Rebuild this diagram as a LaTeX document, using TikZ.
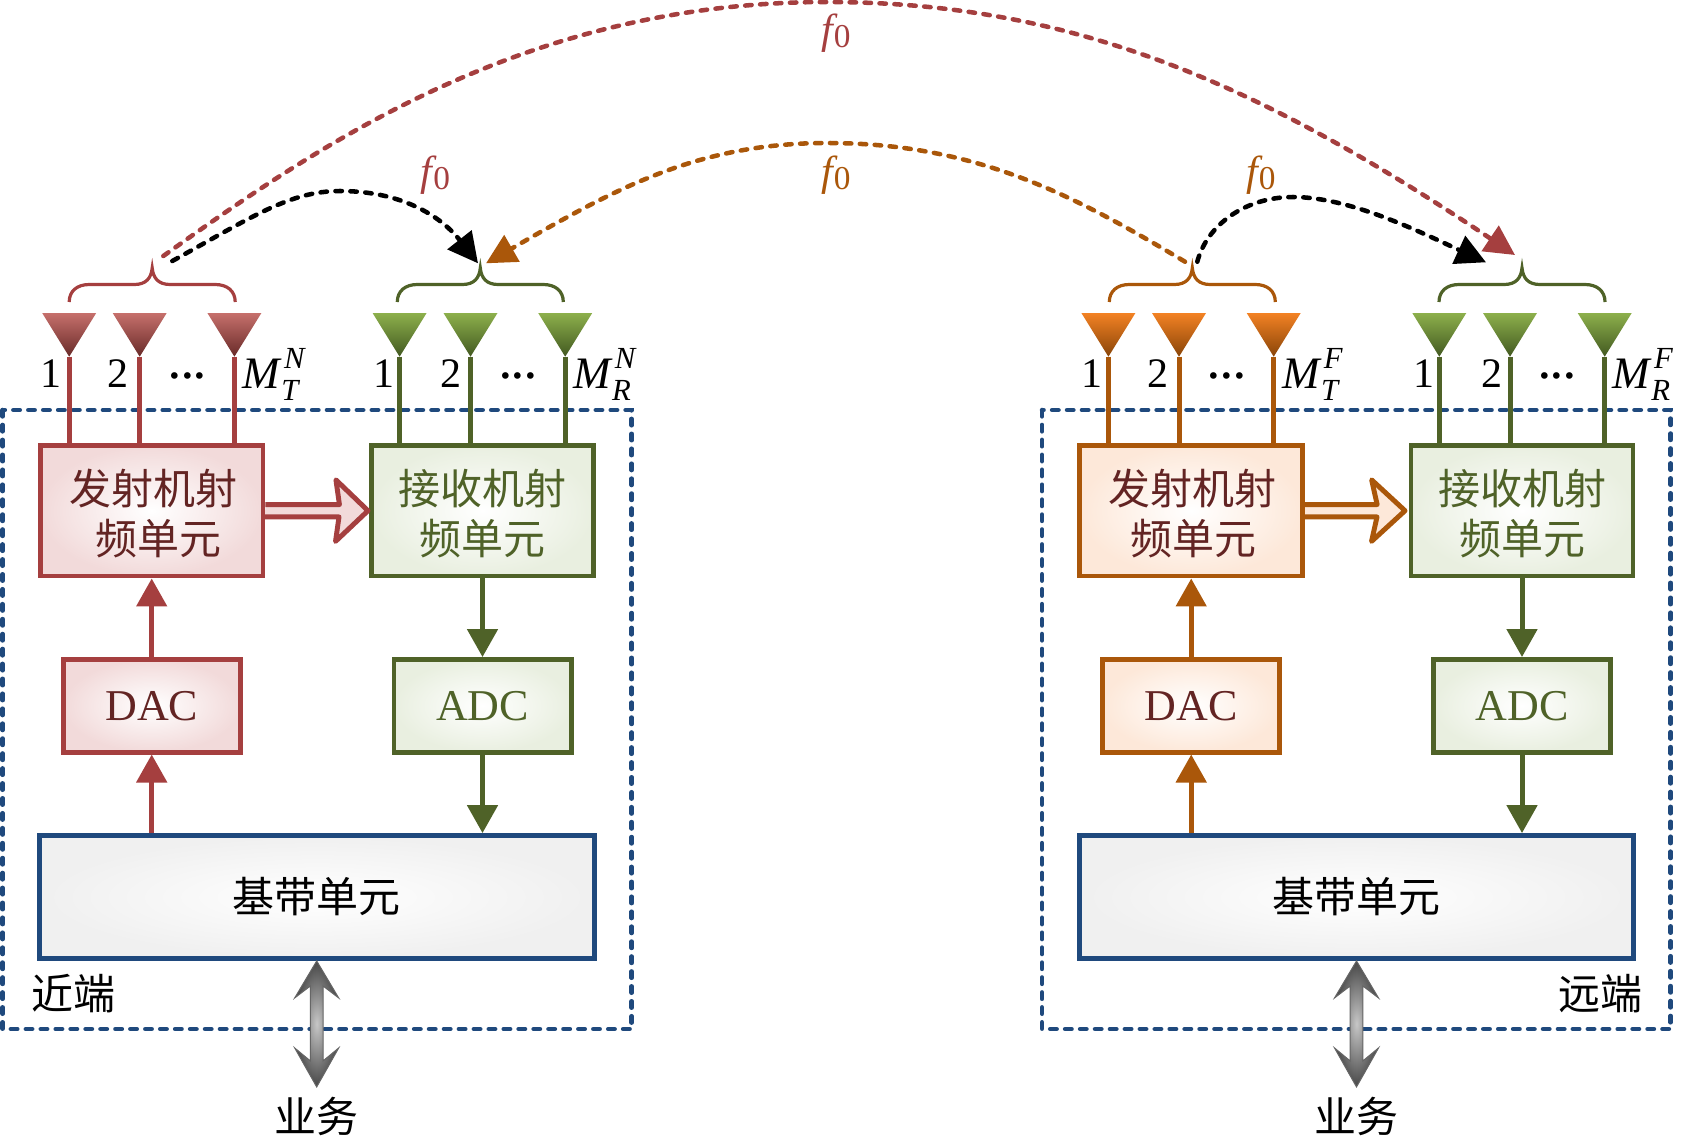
\documentclass[tikz,border=0pt]{standalone}
\usepackage{fontspec}
\setmainfont{Liberation Serif}
\newfontfamily\cjkfont{Noto Sans CJK SC}
\usetikzlibrary{arrows.meta}

\definecolor{redline}{RGB}{165,63,63}
\definecolor{greenline}{RGB}{79,98,40}
\definecolor{orangeline}{RGB}{170,87,10}
\definecolor{blueline}{RGB}{31,73,125}
\definecolor{redtext}{RGB}{99,36,35}
\definecolor{redfill}{RGB}{242,218,218}
\definecolor{orangefill}{RGB}{253,232,217}
\definecolor{greenfill}{RGB}{233,239,224}
\definecolor{redtop}{RGB}{198,112,108}
\definecolor{redtip}{RGB}{104,42,40}
\definecolor{greentop}{RGB}{141,176,76}
\definecolor{greentip}{RGB}{66,88,32}
\definecolor{orangetop}{RGB}{243,130,36}
\definecolor{orangetip}{RGB}{136,68,8}

\newcommand{\bigfs}{\fontsize{31.5pt}{37.5pt}\selectfont}
\newcommand{\smallfs}{\fontsize{23pt}{23pt}\selectfont}
\newcommand{\fzero}{\textit{f}\kern-3pt{\fontsize{25pt}{25pt}\selectfont\raisebox{-3pt}{0}}}
\newcommand{\dn}[1]{\raisebox{-2pt}[\height][\depth]{#1}}
\newcommand{\antname}[2]{{\fontsize{33.75pt}{37.5pt}\selectfont\textit{M}}\rlap{\kern1.5pt\raisebox{15pt}{\smallfs\textit{#2}}}\kern-0.5pt\raisebox{-9pt}{\smallfs\textit{#1}}}
\newcommand{\threedots}{{\fontsize{42pt}{42pt}\selectfont ·\kern-4.5pt·\kern-4.5pt·}}
\newcommand{\bracepath}{.. controls +(0,-11) and +(-12,0) .. ++(20,-17.5) -- ++(45,0) .. controls +(12,0) and +(-1,10) .. ++(18,-16.5) .. controls +(1,10) and +(-12,0) .. ++(18,16.5) -- ++(45,0) .. controls +(12,0) and +(0,-11) .. ++(20,17.5)}

\tikzset{every picture/.style={line width=0.75pt},
  rfbox/.style={draw,line width=3.7pt,minimum height=97.9pt,align=center,font=\cjkfont\bigfs},
  txred/.style={rfbox,draw=redline,inner color=white,outer color=redfill,text=redtext,minimum width=167.2pt},
  txorange/.style={rfbox,draw=orangeline,inner color=white,outer color=orangefill,text=redtext,minimum width=167.2pt},
  rxgreen/.style={rfbox,draw=greenline,inner color=white,outer color=greenfill,text=greenline,minimum width=166.5pt},
  dacred/.style={txred,font=\fontsize{33pt}{37.5pt}\selectfont,minimum width=132.8pt,minimum height=69.4pt},
  dacorange/.style={txorange,font=\fontsize{33pt}{37.5pt}\selectfont,minimum width=132.8pt,minimum height=69.4pt},
  adcgreen/.style={rxgreen,font=\fontsize{33pt}{37.5pt}\selectfont,minimum width=132.8pt,minimum height=69.4pt},
  bbbox/.style={draw=blueline,line width=3.7pt,inner color=white,outer color=black!6,minimum width=416pt,minimum height=92.2pt,font=\cjkfont\bigfs},
  endbox/.style={draw=blueline,line width=3.4pt,line cap=round,dash pattern=on 4.8pt off 6.4pt},
  feedline/.style={line width=3.75pt},
  sigarrow/.style={line width=3.75pt,-{Triangle[length=21pt,width=22.5pt]}},
  air/.style={line width=3.4pt,line cap=round,dash pattern=on 4.8pt off 6.4pt,-{Triangle[length=22.5pt,width=22.5pt]}},
  antred/.style={top color=redtop,bottom color=redtip},
  antgreen/.style={top color=greentop,bottom color=greentip},
  antorange/.style={top color=orangetop,bottom color=orangetip},
  group/.style={line width=2.4pt},
  dbl/.style={line width=3.7pt,line join=round},
  busarrow/.style={draw=black!60,line width=0.75pt,inner color=black!22,outer color=black!72,line join=miter},
  lab/.style={inner sep=0pt,font=\bigfs},
  mlab/.style={inner sep=0pt,anchor=base west,font=\bigfs},
  cjklab/.style={inner sep=0pt,font=\cjkfont\bigfs}
}

\begin{document}
\begin{tikzpicture}[x=0.75pt,y=0.75pt,yscale=-1,xscale=1]
\useasboundingbox (0,0) rectangle (1683,1140);

%Dashed end boxes
\draw [endbox] (2.7,410) rectangle (631.7,1029);
\draw [endbox] (1042,410) rectangle (1670.7,1029);

%Near end blocks
\node [txred] (txN) at (151.5,510.75) {\dn{\hspace*{3pt}发射机射}\\\dn{\hspace*{10pt}频单元}};
\node [rxgreen] (rxN) at (482.5,510.75) {\dn{接收机射}\\\dn{频单元}};
\node [dacred] (dacN) at (151.7,705.75) {DAC};
\node [adcgreen] (adcN) at (482.5,705.75) {ADC};
\node [bbbox] (bbN) at (316.7,897) {基带单元};
%Far end blocks
\node [txorange] (txF) at (1191.2,510.75) {\dn{\hspace*{2pt}发射机射}\\\dn{\hspace*{3pt}频单元}};
\node [rxgreen] (rxF) at (1522,510.75) {\dn{接收机射}\\\dn{频单元}};
\node [dacorange] (dacF) at (1191.2,705.75) {DAC};
\node [adcgreen] (adcF) at (1522,705.75) {ADC};
\node [bbbox] (bbF) at (1356.5,897) {基带单元};

%Antennas near end, transmit
\coordinate (antNT1) at (69.2,356.7);
\coordinate (antNT2) at (139.7,356.7);
\coordinate (antNT3) at (234.4,356.7);
\shade [antred] (42.2,313) -- (96.2,313) -- (antNT1) -- cycle;
\shade [antred] (112.7,313) -- (166.7,313) -- (antNT2) -- cycle;
\shade [antred] (207.4,313) -- (261.4,313) -- (antNT3) -- cycle;
\draw [redline,feedline] (antNT1) -- (antNT1 |- txN.north);
\draw [redline,feedline] (antNT2) -- (antNT2 |- txN.north);
\draw [redline,feedline] (antNT3) -- (antNT3 |- txN.north);
%Antennas near end, receive
\coordinate (antNR1) at (399.6,356.7);
\coordinate (antNR2) at (470.5,356.7);
\coordinate (antNR3) at (565.2,356.7);
\shade [antgreen] (372.6,313) -- (426.6,313) -- (antNR1) -- cycle;
\shade [antgreen] (443.5,313) -- (497.5,313) -- (antNR2) -- cycle;
\shade [antgreen] (538.2,313) -- (592.2,313) -- (antNR3) -- cycle;
\draw [greenline,feedline] (antNR1) -- (antNR1 |- rxN.north);
\draw [greenline,feedline] (antNR2) -- (antNR2 |- rxN.north);
\draw [greenline,feedline] (antNR3) -- (antNR3 |- rxN.north);
%Antennas far end, transmit
\coordinate (antFT1) at (1108.4,356.7);
\coordinate (antFT2) at (1179,356.7);
\coordinate (antFT3) at (1273.7,356.7);
\shade [antorange] (1081.4,313) -- (1135.4,313) -- (antFT1) -- cycle;
\shade [antorange] (1152,313) -- (1206,313) -- (antFT2) -- cycle;
\shade [antorange] (1246.7,313) -- (1300.7,313) -- (antFT3) -- cycle;
\draw [orangeline,feedline] (antFT1) -- (antFT1 |- txF.north);
\draw [orangeline,feedline] (antFT2) -- (antFT2 |- txF.north);
\draw [orangeline,feedline] (antFT3) -- (antFT3 |- txF.north);
%Antennas far end, receive
\coordinate (antFR1) at (1439.3,356.7);
\coordinate (antFR2) at (1510,356.7);
\coordinate (antFR3) at (1604.7,356.7);
\shade [antgreen] (1412.3,313) -- (1466.3,313) -- (antFR1) -- cycle;
\shade [antgreen] (1483,313) -- (1537,313) -- (antFR2) -- cycle;
\shade [antgreen] (1577.7,313) -- (1631.7,313) -- (antFR3) -- cycle;
\draw [greenline,feedline] (antFR1) -- (antFR1 |- rxF.north);
\draw [greenline,feedline] (antFR2) -- (antFR2 |- rxF.north);
\draw [greenline,feedline] (antFR3) -- (antFR3 |- rxF.north);

%Braces
\draw [group,redline] (69.2,302) \bracepath;
\draw [group,greenline] (397.3,302) \bracepath;
\draw [group,orangeline] (1109.3,302) \bracepath;
\draw [group,greenline] (1439,302) \bracepath;

%Signal arrows
\draw [sigarrow,redline] (bbN.north -| dacN) -- (dacN.south);
\draw [sigarrow,redline] (dacN.north) -- (txN.south -| dacN);
\draw [sigarrow,greenline] (rxN.south -| adcN) -- (adcN.north);
\draw [sigarrow,greenline] (adcN.south) -- (bbN.north -| adcN);
\draw [sigarrow,orangeline] (bbF.north -| dacF) -- (dacF.south);
\draw [sigarrow,orangeline] (dacF.north) -- (txF.south);
\draw [sigarrow,greenline] (rxF.south) -- (adcF.north);
\draw [sigarrow,greenline] (adcF.south) -- (bbF.north -| adcF);

%Hollow arrows from transmitter to receiver
\filldraw [dbl,draw=redline,fill=redfill] (txN.east) ++(0,-6.2) -- ++(74,0) -- ++(-3.5,-24.7) -- (368,510.7) -- (335.5,541.4) -- ++(3.5,-24.5) -- ++(-74,0);
\filldraw [dbl,draw=orangeline,fill=orangefill] (txF.east) ++(0,-6.2) -- ++(72,0) -- ++(-5.5,-24.7) -- (1405,510.7) -- (1371.5,541.4) -- ++(5.5,-24.5) -- ++(-72,0);

%Service arrows
\shadedraw [busarrow] (bbN.south) -- ++(22,37) -- ++(-15.7,-12) -- ++(0,75) -- ++(15.7,-13) -- ++(-22,39) -- ++(-22,-39) -- ++(15.7,13) -- ++(0,-75) -- ++(-15.7,12) -- cycle;
\shadedraw [busarrow] (bbF.south) -- ++(22,37) -- ++(-15.7,-12) -- ++(0,75) -- ++(15.7,-13) -- ++(-22,39) -- ++(-22,-39) -- ++(15.7,13) -- ++(0,-75) -- ++(-15.7,12) -- cycle;

%Links in the air
\coordinate (outNT) at (163.3,256);
\coordinate (inNR) at (478,263.3);
\coordinate (outNTs) at (172.3,261);
\coordinate (inNRo) at (486,263.3);
\coordinate (outFTo) at (1185,261.7);
\coordinate (outFT) at (1197.3,261.7);
\coordinate (inFR) at (1486,262.3);
\coordinate (inFRr) at (1515,255);
\draw [air,redline] (outNT) .. controls (323,142) and (527,2) .. (827,2) .. controls (1077,2) and (1265,87.5) .. (inFRr);
\draw [air,orangeline] (outFTo) .. controls (1075,196) and (977,143) .. (827,143) .. controls (697,143) and (615,189) .. (inNRo);
\draw [air,black] (outNTs) .. controls (252,217) and (290,191) .. (340,191) .. controls (400,191) and (440,215) .. (inNR);
\draw [air,black] (outFT) .. controls (1207,225) and (1245,197) .. (1293,197) .. controls (1350,197) and (1420,232) .. (inFR);

%Frequency labels
\node [lab,text=redline] (f1) at (836,33) {\fzero};
\node [lab,text=orangeline] (f2) at (836,175.5) {\fzero};
\node [lab,text=redline] (f3) at (435.5,175.5) {\fzero};
\node [lab,text=orangeline] (f4) at (1261,175.5) {\fzero};

%Antenna labels
\node [lab] (nT1) at (51.3,374) {1};
\node [lab] (nT2) at (118.3,374) {2};
\node [lab] (nT3) at (187.5,383.5) {\threedots};
\node [mlab] (nT4) at (242,388) {\antname{T}{N}};
\node [lab] (nR1) at (384,374) {1};
\node [lab] (nR2) at (451,374) {2};
\node [lab] (nR3) at (518,383.5) {\threedots};
\node [mlab] (nR4) at (572.8,388) {\antname{R}{N}};
\node [lab] (fT1) at (1091.7,374) {1};
\node [lab] (fT2) at (1158,374) {2};
\node [lab] (fT3) at (1226.7,383.5) {\threedots};
\node [mlab] (fT4) at (1281.7,388) {\antname{T}{F}};
\node [lab] (fR1) at (1424,374) {1};
\node [lab] (fR2) at (1491.7,374) {2};
\node [lab] (fR3) at (1557,383.5) {\threedots};
\node [mlab] (fR4) at (1612,388) {\antname{R}{F}};

%End and service labels
\node [cjklab] (nearL) at (73.3,994) {近端};
\node [cjklab] (farL) at (1600.7,994) {远端};
\node [cjklab] (svcN) at (316.7,1116) {业务};
\node [cjklab] (svcF) at (1356.5,1116) {业务};

\end{tikzpicture}
\end{document}
